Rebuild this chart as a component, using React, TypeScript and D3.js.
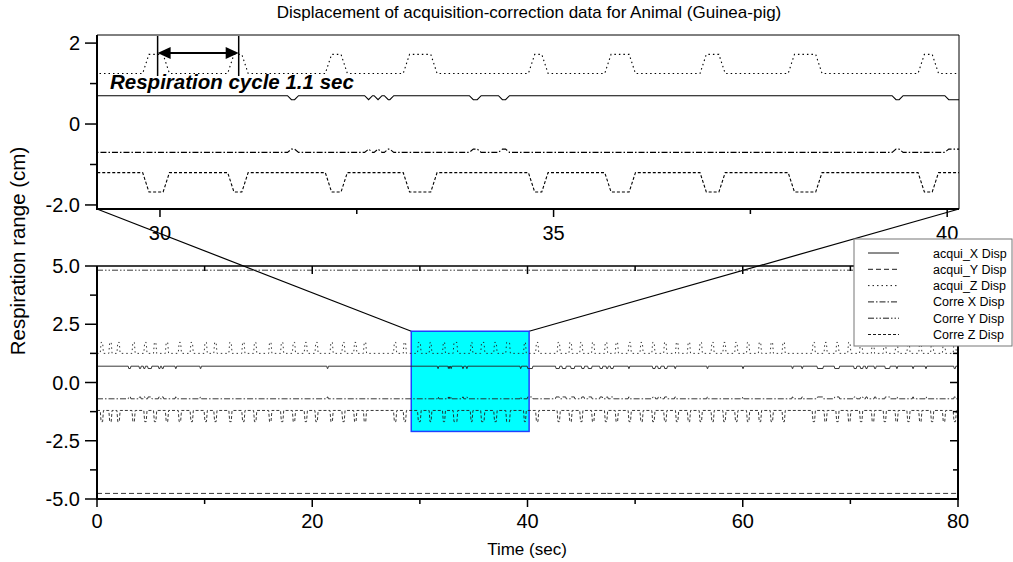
import React from "react";
import * as d3 from "d3";

type Iv = [number, number];

// ---------- data ----------
const seriesNames = ["acqui_X Disp", "acqui_Y Disp", "acqui_Z Disp", "Corre X Disp", "Corre Y Disp", "Corre Z Disp"];
// resting level of each series (cm)
const seriesBase = [0.7, -4.76, 1.25, -0.7, 4.82, -1.2];
// level reached during the events of each series (cm)
const seriesEventLevel = [0.6, -4.7, 1.72, -0.62, 4.82, -1.68];

// respiration peaks (acqui_Z up / Corre Z down): [start, end] in sec
const respPeaks: Iv[] = [
  [0.3, 0.6], [1.1, 1.4], [1.85, 2.15], [3.25, 3.55], [4.35, 4.65], [5.25, 5.55], [6.35, 6.65],
  [7.55, 7.85], [8.65, 8.95], [9.95, 10.25], [10.85, 11.15], [12.25, 12.55], [13.45, 13.75],
  [14.55, 14.85], [15.95, 16.25], [17.05, 17.35], [18.15, 18.45], [19.25, 19.55], [20.25, 20.55],
  [21.65, 21.95], [22.75, 23.05], [23.85, 24.15], [24.75, 25.05], [27.55, 27.85], [28.45, 28.75],
  [29.78, 30.12], [30.86, 31.12], [32.1, 32.38], [33.09, 33.52], [34.68, 34.93], [35.65, 36.04],
  [36.86, 37.18], [37.98, 38.41], [39.63, 39.89],
  [40.75, 41.05], [42.75, 43.05], [43.85, 44.15], [44.85, 45.15], [45.95, 46.25], [47.15, 47.45],
  [48.15, 48.45], [49.35, 49.65], [50.45, 50.75], [51.55, 51.85], [52.65, 52.95], [53.75, 54.05],
  [54.85, 55.15], [55.95, 56.25], [57.05, 57.35], [58.15, 58.45], [59.25, 59.55], [60.35, 60.65],
  [61.45, 61.75], [62.55, 62.85], [63.65, 63.95], [66.45, 66.75], [67.55, 67.85], [68.65, 68.95],
  [69.75, 70.05], [70.85, 71.15], [71.95, 72.25], [73.05, 73.35], [74.15, 74.45], [75.25, 75.55],
  [76.35, 76.65], [77.45, 77.75], [78.55, 78.85], [79.55, 79.85],
];

// small motion events (acqui_X down / Corre X up): [start, end] in sec
const motionEvents: Iv[] = [
  [2.9, 3.15], [3.9, 4.1], [4.3, 4.5], [4.7, 5.1], [5.7, 5.9], [6.0, 6.2], [7.25, 7.4], [9.55, 9.7],
  [21.35, 21.5], [31.62, 31.76], [32.6, 32.7], [32.72, 32.82], [32.85, 32.97], [33.93, 34.08],
  [34.3, 34.44], [39.3, 39.44], [39.97, 40.5], [42.6, 43.0], [43.2, 43.6], [44.0, 44.4], [45.0, 45.3],
  [45.6, 46.0], [46.7, 47.0], [47.3, 47.5], [47.7, 48.0], [49.35, 49.5], [51.6, 51.9], [52.1, 52.4],
  [52.7, 53.0], [53.65, 53.8], [56.65, 56.8], [59.95, 60.1], [64.55, 64.7], [65.45, 65.6],
  [66.9, 67.5], [68.5, 69.0], [70.3, 70.6], [70.9, 71.2], [71.4, 71.6], [72.2, 72.4], [73.2, 73.7],
  [74.25, 74.4], [75.75, 75.9], [76.95, 77.1], [79.6, 79.8],
];
const yGlitches: Iv[] = [[47.3, 47.45]];
const noEvents: Iv[] = [];
const seriesEvents = [motionEvents, yGlitches, respPeaks, motionEvents, noEvents, respPeaks];
const seriesRamp = [0.05, 0.05, 0.08, 0.05, 0.05, 0.08];

// axes
const mainXTicks = [0, 20, 40, 60, 80];
const mainXMinor = [10, 30, 50, 70];
const mainYTicks = [5, 2.5, 0, -2.5, -5];
const mainYLabels = ["5.0", "2.5", "0.0", "-2.5", "-5.0"];
const mainYMinor = [3.75, 1.25, -1.25, -3.75];
const zoomXTicks = [30, 35, 40];
const zoomXMinor = [32.5, 37.5];
const zoomYTicks = [2, 0, -2];
const zoomYLabels = ["2", "0", "-2.0"];
const zoomYMinor = [1, -1];
const zoomXDomain: Iv = [29.2, 40.15];
const zoomYDomain: Iv = [-2.1, 2.2];
const cycleArrow: Iv = [29.97, 31.0];

const title = "Displacement of acquisition-correction data for Animal (Guinea-pig)";
const xTitle = "Time (sec)";
const yTitle = "Respiration range (cm)";
const cycleText = "Respiration cycle 1.1 sec";

// ---------- styles ----------
const dashes = ["", "5,3", "1.5,3", "6,2,1.5,2", "6,2,1.5,2,1.5,2", "3,2"];
const FONT = "Arial, 'Liberation Sans', sans-serif";

function buildSeries(base: number, level: number, events: Iv[], ramp: number): [number, number][] {
  const pts: [number, number][] = [[0, base]];
  const sorted = [...events].sort((a, b) => a[0] - b[0]);
  for (const [s, e] of sorted) {
    const r = Math.min(ramp, (e - s) / 2);
    pts.push([s, base], [s + r, level], [e - r, level], [e, base]);
  }
  pts.push([80, base]);
  return pts;
}

export default function App() {
  const W = 1013, H = 562;
  // main panel
  const mL = 97, mR = 958, mT = 266, mB = 499;
  // zoom panel
  const zL = 97, zR = 959, zT = 35, zB = 209;

  const xMain = d3.scaleLinear().domain([0, 80]).range([mL, mR]);
  const yMain = d3.scaleLinear().domain([-5, 5]).range([mB, mT]);
  const xZoom = d3.scaleLinear().domain(zoomXDomain).range([zL, zR]);
  const yZoom = d3.scaleLinear().domain(zoomYDomain).range([zB, zT]);

  const data = seriesNames.map((_, i) =>
    buildSeries(seriesBase[i], seriesEventLevel[i], seriesEvents[i], seriesRamp[i])
  );

  const lineMain = d3.line<[number, number]>().x(d => xMain(d[0])).y(d => yMain(d[1]));
  const lineZoom = d3.line<[number, number]>().x(d => xZoom(d[0])).y(d => yZoom(d[1]));

  const cx0 = xMain(zoomXDomain[0]), cx1 = xMain(zoomXDomain[1]);
  const cy0 = yMain(zoomYDomain[1]), cy1 = yMain(zoomYDomain[0]);

  const ax0 = xZoom(cycleArrow[0]), ax1 = xZoom(cycleArrow[1]);
  const arrowY = 53;

  const tickFont = 20;

  return (
    <svg width={W} height={H} style={{ position: "absolute", left: 0, top: 0, background: "#fff" }} fontFamily={FONT}>
      <defs>
        <clipPath id="clipZoom">
          <rect x={zL} y={zT} width={zR - zL} height={zB - zT} />
        </clipPath>
        <clipPath id="clipMain">
          <rect x={mL} y={mT} width={mR - mL} height={mB - mT} />
        </clipPath>
      </defs>
      <rect x={0} y={0} width={W} height={H} fill="#fff" />

      {/* title */}
      <text x={529} y={18} textAnchor="middle" fontSize={17}>{title}</text>

      {/* ===== zoom panel ===== */}
      <g clipPath="url(#clipZoom)">
        {data.map((d, i) => (
          <path key={i} d={lineZoom(d) || ""} fill="none" stroke="#000" strokeWidth={1.1}
            strokeDasharray={dashes[i]} />
        ))}
      </g>
      <line x1={zL} x2={zR} y1={zT} y2={zT} stroke="#000" strokeWidth={1} />
      <line x1={zR} x2={zR} y1={zT} y2={zB} stroke="#000" strokeWidth={1} />
      <line x1={zL} x2={zL} y1={zT} y2={zB + 1} stroke="#000" strokeWidth={2} />
      <line x1={zL - 1} x2={zR} y1={zB} y2={zB} stroke="#000" strokeWidth={2} />
      {zoomYTicks.map((t, i) => (
        <g key={"zy" + i}>
          <line x1={zL - 12} x2={zL} y1={yZoom(t)} y2={yZoom(t)} stroke="#000" strokeWidth={1.5} />
          <text x={zL - 17} y={yZoom(t)} dy="0.36em" textAnchor="end" fontSize={tickFont}>{zoomYLabels[i]}</text>
        </g>
      ))}
      {zoomYMinor.map((t, i) => (
        <line key={"zym" + i} x1={zL - 7} x2={zL} y1={yZoom(t)} y2={yZoom(t)} stroke="#000" strokeWidth={1.5} />
      ))}
      {zoomXTicks.map((t, i) => (
        <g key={"zx" + i}>
          <line x1={xZoom(t)} x2={xZoom(t)} y1={zB} y2={zB + 8} stroke="#000" strokeWidth={1.5} />
          <text x={xZoom(t)} y={zB + 31} textAnchor="middle" fontSize={tickFont}>{t}</text>
        </g>
      ))}
      {zoomXMinor.map((t, i) => (
        <line key={"zxm" + i} x1={xZoom(t)} x2={xZoom(t)} y1={zB} y2={zB + 5} stroke="#000" strokeWidth={1.5} />
      ))}

      {/* cycle annotation */}
      <line x1={ax0} x2={ax0} y1={36} y2={76} stroke="#000" strokeWidth={1.5} />
      <line x1={ax1} x2={ax1} y1={36} y2={76} stroke="#000" strokeWidth={1.5} />
      <line x1={ax0 + 10} x2={ax1 - 10} y1={arrowY} y2={arrowY} stroke="#000" strokeWidth={2} />
      <path d={`M${ax0},${arrowY}L${ax0 + 13},${arrowY - 6}L${ax0 + 13},${arrowY + 6}Z`} fill="#000" />
      <path d={`M${ax1},${arrowY}L${ax1 - 13},${arrowY - 6}L${ax1 - 13},${arrowY + 6}Z`} fill="#000" />
      <text x={110} y={89} fontSize={20.5} fontWeight="bold" fontStyle="italic">{cycleText}</text>

      {/* connector lines */}
      <line x1={zL} y1={zB} x2={cx0} y2={cy0} stroke="#000" strokeWidth={1.2} />
      <line x1={zR} y1={zB} x2={cx1} y2={cy0} stroke="#000" strokeWidth={1.2} />

      {/* ===== main panel ===== */}
      <rect x={cx0} y={cy0} width={cx1 - cx0} height={cy1 - cy0} fill="#00ffff" stroke="#2040ff" strokeWidth={1.5} />
      <g clipPath="url(#clipMain)">
        {data.map((d, i) => (
          <path key={i} d={lineMain(d) || ""} fill="none" stroke="#222" strokeWidth={0.9}
            strokeDasharray={dashes[i]} />
        ))}
      </g>
      <line x1={mL} x2={mR} y1={mT} y2={mT} stroke="#000" strokeWidth={1.5} />
      <line x1={mR} x2={mR} y1={mT} y2={mB} stroke="#000" strokeWidth={2} />
      <line x1={mL} x2={mL} y1={mT} y2={mB + 1} stroke="#000" strokeWidth={2} />
      <line x1={mL - 1} x2={mR + 1} y1={mB} y2={mB} stroke="#000" strokeWidth={2} />
      {mainYTicks.map((t, i) => (
        <g key={"my" + i}>
          <line x1={mL - 12} x2={mL} y1={yMain(t)} y2={yMain(t)} stroke="#000" strokeWidth={1.5} />
          <line x1={mR - 8} x2={mR} y1={yMain(t)} y2={yMain(t)} stroke="#000" strokeWidth={1.5} />
          <text x={mL - 17} y={yMain(t)} dy="0.36em" textAnchor="end" fontSize={tickFont}>{mainYLabels[i]}</text>
        </g>
      ))}
      {mainYMinor.map((t, i) => (
        <g key={"mym" + i}>
          <line x1={mL - 7} x2={mL} y1={yMain(t)} y2={yMain(t)} stroke="#000" strokeWidth={1.5} />
          <line x1={mR - 5} x2={mR} y1={yMain(t)} y2={yMain(t)} stroke="#000" strokeWidth={1.5} />
        </g>
      ))}
      {mainXTicks.map((t, i) => (
        <g key={"mx" + i}>
          <line x1={xMain(t)} x2={xMain(t)} y1={mB} y2={mB + 8} stroke="#000" strokeWidth={1.5} />
          <line x1={xMain(t)} x2={xMain(t)} y1={mT} y2={mT + 8} stroke="#000" strokeWidth={1.5} />
          <text x={xMain(t)} y={mB + 29} textAnchor="middle" fontSize={tickFont}>{t}</text>
        </g>
      ))}
      {mainXMinor.map((t, i) => (
        <g key={"mxm" + i}>
          <line x1={xMain(t)} x2={xMain(t)} y1={mB} y2={mB + 5} stroke="#000" strokeWidth={1.5} />
          <line x1={xMain(t)} x2={xMain(t)} y1={mT} y2={mT + 5} stroke="#000" strokeWidth={1.5} />
        </g>
      ))}

      {/* axis titles */}
      <text x={527} y={555} textAnchor="middle" fontSize={17}>{xTitle}</text>
      <text transform={`translate(25,251) rotate(-90)`} textAnchor="middle" fontSize={20.5}>{yTitle}</text>

      {/* legend */}
      <rect x={854} y={239} width={158} height={107} fill="#fff" stroke="#777" strokeWidth={1} />
      {seriesNames.map((n, i) => {
        const ly = 253 + i * 16.3;
        return (
          <g key={"lg" + i}>
            <line x1={868} x2={899} y1={ly} y2={ly} stroke="#000" strokeWidth={0.9} strokeDasharray={dashes[i]} />
            <text x={933} y={ly} dy="0.36em" fontSize={12.5}>{n}</text>
          </g>
        );
      })}
    </svg>
  );
}
